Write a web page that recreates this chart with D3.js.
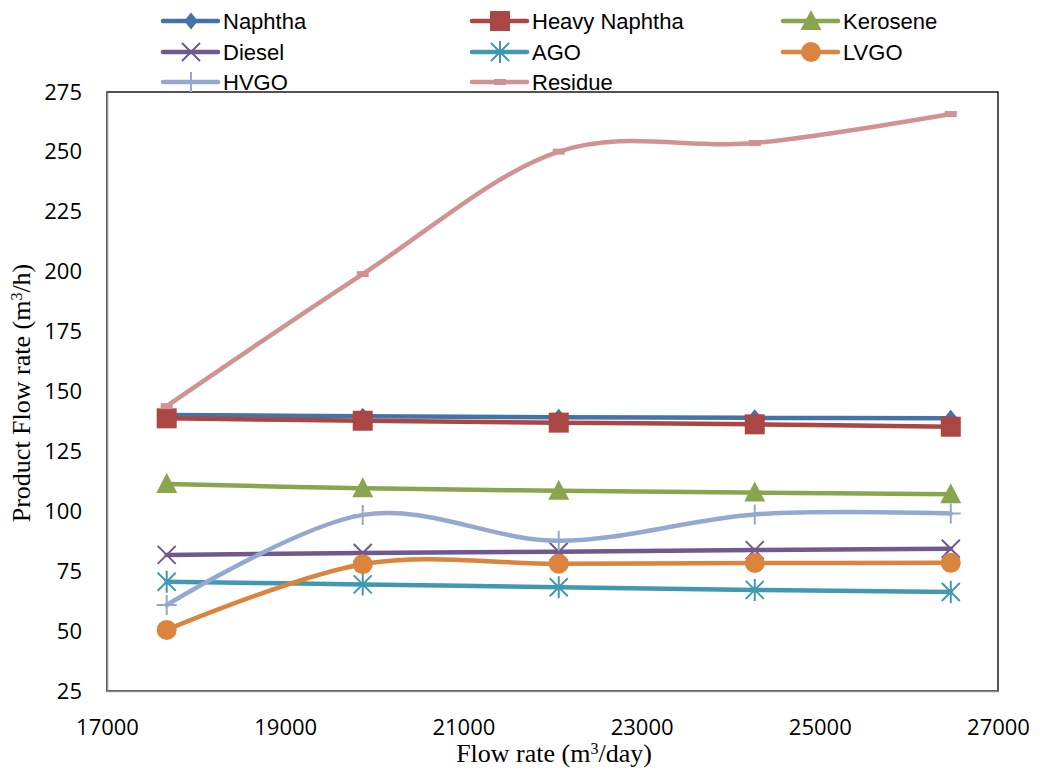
<!DOCTYPE html>
<html>
<head>
<meta charset="utf-8">
<script src="https://cdn.jsdelivr.net/npm/d3@7"></script>
<style>
  html, body { margin: 0; padding: 0; background: #fff; }
  svg { display: block; }
</style>
</head>
<body>
<svg id="chart" width="1040" height="773"></svg>
<script>
// Feed flow rate (m3/day) at each operating point
const flowRates = [17670, 19870, 22070, 24270, 26470];

// Product flow rates (m3/h)
const naphtha      = [140.2, 139.7, 139.3, 139.0, 138.8];
const heavyNaphtha = [138.8, 137.8, 137.0, 136.3, 135.3];
const kerosene     = [111.4, 109.6, 108.6, 107.8, 107.1];
const diesel       = [81.8, 82.6, 83.1, 83.8, 84.4];
const ago          = [70.6, 69.5, 68.3, 67.2, 66.3];
const lvgo         = [50.5, 77.9, 78.1, 78.4, 78.5];
const hvgo         = [60.9, 98.5, 87.7, 98.7, 99.1];
const residue      = [143.9, 199.0, 250.1, 253.7, 265.8];

const xTicks = [17000, 19000, 21000, 23000, 25000, 27000];
const yTicks = [25, 50, 75, 100, 125, 150, 175, 200, 225, 250, 275];

const series = [
  { name: "Naphtha",       values: naphtha,      color: "#4572A7", marker: "diamond" },
  { name: "Heavy Naphtha", values: heavyNaphtha, color: "#AA4643", marker: "square" },
  { name: "Kerosene",      values: kerosene,     color: "#89A54E", marker: "triangle" },
  { name: "Diesel",        values: diesel,       color: "#71588F", marker: "x" },
  { name: "AGO",           values: ago,          color: "#4198AF", marker: "star" },
  { name: "LVGO",          values: lvgo,         color: "#DB843D", marker: "circle" },
  { name: "HVGO",          values: hvgo,         color: "#93A9CF", marker: "plus" },
  { name: "Residue",       values: residue,      color: "#D19392", marker: "dash" }
];

const svg = d3.select("#chart");
const plot = { left: 107, right: 998, top: 92, bottom: 691 };

const x = d3.scaleLinear().domain([17000, 27000]).range([plot.left, plot.right]);
const y = d3.scaleLinear().domain([25, 275]).range([plot.bottom, plot.top]);

// plot area frame
svg.append("rect")
  .attr("x", plot.left).attr("y", plot.top)
  .attr("width", plot.right - plot.left).attr("height", plot.bottom - plot.top)
  .attr("fill", "#fff").attr("stroke", "#1a1a1a").attr("stroke-width", 1.5);

// axes
const tickFont = "'Open Sans', 'Liberation Sans', sans-serif";
const yAxis = svg.append("g")
  .attr("transform", `translate(${plot.left},0)`)
  .call(d3.axisLeft(y).tickValues(yTicks).tickSize(0).tickPadding(25).tickFormat(d3.format("d")));
const xAxis = svg.append("g")
  .attr("transform", `translate(0,${plot.bottom})`)
  .call(d3.axisBottom(x).tickValues(xTicks).tickSize(0).tickPadding(28).tickFormat(d3.format("d")));

[xAxis, yAxis].forEach(g => {
  g.select(".domain").attr("stroke", "#8c8c8c").attr("stroke-width", 1.5);
  g.selectAll("text")
    .attr("font-family", tickFont)
    .attr("font-size", 22)
    .attr("fill", "#000");
});

// axis titles
const titleFont = "'Liberation Serif', 'DejaVu Serif', serif";
const xTitle = svg.append("text")
  .attr("x", 554).attr("y", 762)
  .attr("text-anchor", "middle")
  .attr("font-family", titleFont).attr("font-size", 26);
xTitle.append("tspan").text("Flow rate (m");
xTitle.append("tspan").attr("baseline-shift", "super").attr("font-size", 16).text("3");
xTitle.append("tspan").text("/day)");

const yTitle = svg.append("text")
  .attr("transform", "translate(30,393) rotate(-90)")
  .attr("text-anchor", "middle")
  .attr("font-family", titleFont).attr("font-size", 26);
yTitle.append("tspan").text("Product Flow rate (m");
yTitle.append("tspan").attr("baseline-shift", "super").attr("font-size", 16).text("3");
yTitle.append("tspan").text("/h)");

// marker drawing
function drawMarker(g, type, color, cx, cy) {
  switch (type) {
    case "diamond":
      g.append("path").attr("d", `M${cx},${cy - 8.5}L${cx + 7},${cy}L${cx},${cy + 8.5}L${cx - 7},${cy}Z`)
        .attr("fill", color);
      break;
    case "square":
      g.append("rect").attr("x", cx - 10).attr("y", cy - 10).attr("width", 20).attr("height", 20)
        .attr("fill", color);
      break;
    case "triangle":
      g.append("path").attr("d", `M${cx},${cy - 11}L${cx + 10.5},${cy + 9}L${cx - 10.5},${cy + 9}Z`)
        .attr("fill", color);
      break;
    case "x":
      g.append("path").attr("d", `M${cx - 9},${cy - 9}L${cx + 9},${cy + 9}M${cx - 9},${cy + 9}L${cx + 9},${cy - 9}`)
        .attr("stroke", color).attr("stroke-width", 2).attr("fill", "none");
      break;
    case "star":
      g.append("path").attr("d",
          `M${cx - 9},${cy - 9}L${cx + 9},${cy + 9}M${cx - 9},${cy + 9}L${cx + 9},${cy - 9}M${cx},${cy - 11}L${cx},${cy + 11}`)
        .attr("stroke", color).attr("stroke-width", 2).attr("fill", "none");
      break;
    case "circle":
      g.append("circle").attr("cx", cx).attr("cy", cy).attr("r", 10).attr("fill", color);
      break;
    case "plus":
      g.append("path").attr("d", `M${cx - 10},${cy}L${cx + 10},${cy}M${cx},${cy - 10}L${cx},${cy + 10}`)
        .attr("stroke", color).attr("stroke-width", 2).attr("fill", "none");
      break;
    case "dash":
      g.append("rect").attr("x", cx - 6).attr("y", cy - 3).attr("width", 12).attr("height", 6)
        .attr("fill", color);
      break;
  }
}

// series lines and markers (smoothed curves)
const line = d3.line()
  .x((d, i) => x(flowRates[i]))
  .y(d => y(d))
  .curve(d3.curveCardinal.tension(0));

series.forEach(s => {
  const g = svg.append("g");
  g.append("path")
    .attr("d", line(s.values))
    .attr("fill", "none")
    .attr("stroke", s.color)
    .attr("stroke-width", 4.5)
    .attr("stroke-linejoin", "round")
    .attr("stroke-linecap", "round");
  s.values.forEach((v, i) => drawMarker(g, s.marker, s.color, x(flowRates[i]), y(v)));
});

// legend: three columns, three rows
const legendCols = [163, 472, 783];
const legendRows = [21, 52, 82];
const legend = svg.append("g");
series.forEach((s, i) => {
  const lx = legendCols[i % 3];
  const ly = legendRows[Math.floor(i / 3)];
  legend.append("line")
    .attr("x1", lx).attr("x2", lx + 55).attr("y1", ly).attr("y2", ly)
    .attr("stroke", s.color).attr("stroke-width", 4.5).attr("stroke-linecap", "round");
  drawMarker(legend, s.marker, s.color, lx + 28, ly);
  legend.append("text")
    .attr("x", lx + 60).attr("y", ly + 8)
    .attr("font-family", "'Liberation Sans', Arial, sans-serif")
    .attr("font-size", 22)
    .text(s.name);
});
</script>
</body>
</html>
